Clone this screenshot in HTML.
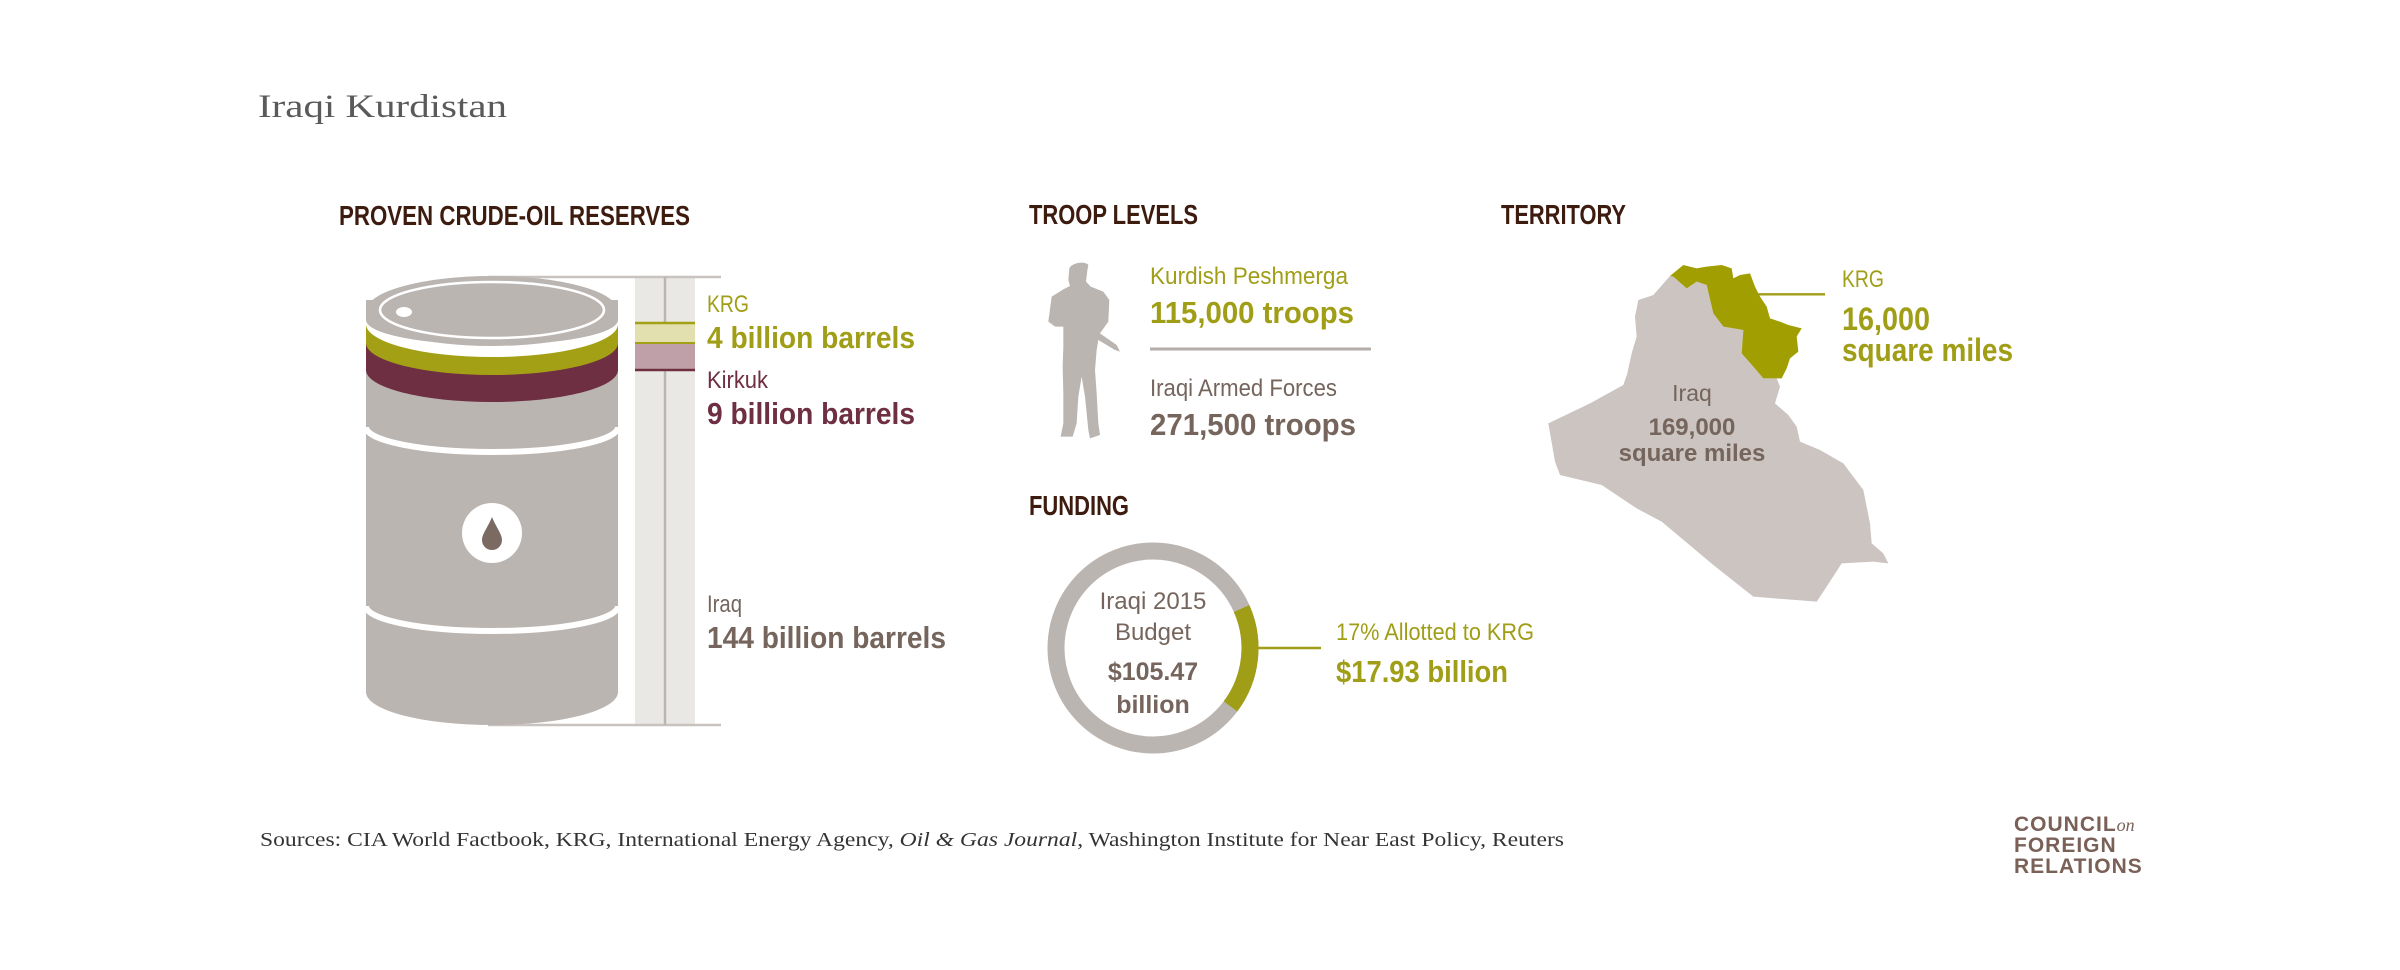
<!DOCTYPE html>
<html><head><meta charset="utf-8"><style>
html,body{margin:0;padding:0;background:#fff;}
svg{display:block;}
.n{font-family:"Liberation Sans Narrow","Liberation Sans",sans-serif;}
.b{font-weight:bold;}
.s{font-family:"Liberation Serif",serif;}
</style></head><body>
<svg width="2400" height="970" viewBox="0 0 2400 970" xmlns="http://www.w3.org/2000/svg">
<rect width="2400" height="970" fill="#fff"/>
<text x="258" y="117" class="s" font-size="33" fill="#5a5a5a" textLength="249" lengthAdjust="spacingAndGlyphs">Iraqi Kurdistan</text>

<g class="n b" font-size="28" fill="#3d1c0f">
<text x="339" y="225" textLength="351" lengthAdjust="spacingAndGlyphs">PROVEN CRUDE-OIL RESERVES</text>
<text x="1029" y="224" textLength="169" lengthAdjust="spacingAndGlyphs">TROOP LEVELS</text>
<text x="1501" y="224" textLength="125" lengthAdjust="spacingAndGlyphs">TERRITORY</text>
<text x="1029" y="515" textLength="100" lengthAdjust="spacingAndGlyphs">FUNDING</text>
</g>

<rect x="635" y="277" width="60" height="448" fill="#eae8e4"/>
<line x1="488" y1="277" x2="721" y2="277" stroke="#c9c3c0" stroke-width="2.5"/>
<line x1="488" y1="725" x2="721" y2="725" stroke="#c9c3c0" stroke-width="2.5"/>
<line x1="665" y1="277" x2="665" y2="725" stroke="#bcb5b2" stroke-width="2.5"/>
<rect x="635" y="322" width="60" height="21" fill="#e3e0b0"/>
<line x1="635" y1="323" x2="695" y2="323" stroke="#a3a015" stroke-width="2.5"/>
<line x1="635" y1="343" x2="695" y2="343" stroke="#a3a015" stroke-width="2"/>
<rect x="635" y="344" width="60" height="26" fill="#c0a0a8"/>
<line x1="635" y1="370" x2="695" y2="370" stroke="#6e2f42" stroke-width="2.5"/>

<path d="M366,310 L366,692 A126,33 0 0 0 618,692 L618,310 Z" fill="#bbb5b2"/>
<path d="M366,300 L366,370 A126,32 0 0 0 618,370 L618,300 Z" fill="#6e2f42"/>
<path d="M366,300 L366,343 A126,32 0 0 0 618,343 L618,300 Z" fill="#a3a015"/>
<path d="M366,300 L366,324 A126,33 0 0 0 618,324 L618,300 Z" fill="#fff"/>
<path d="M366,300 L366,320 A126,25 0 0 0 618,320 L618,300 Z" fill="#bbb5b2"/>
<ellipse cx="492" cy="311" rx="126" ry="35" fill="#bbb5b2"/>
<ellipse cx="492" cy="310" rx="112" ry="28" fill="none" stroke="#fff" stroke-width="2.5"/>
<ellipse cx="404" cy="312" rx="8" ry="5" fill="#fff"/>
<path d="M366,427 A126,25 0 0 0 618,427" fill="none" stroke="#fff" stroke-width="6"/>
<path d="M366,606 A126,25 0 0 0 618,606" fill="none" stroke="#fff" stroke-width="6"/>
<circle cx="492" cy="533" r="30" fill="#fff"/>
<path d="M492,517 C488,527 482,534 482,540 A10,10 0 0 0 502,540 C502,534 496,527 492,517 Z" fill="#7a6a62"/>

<g class="n">
<text x="707" y="312" font-size="24" fill="#a09e16" textLength="42" lengthAdjust="spacingAndGlyphs">KRG</text>
<text x="707" y="348" font-size="31" class="b" fill="#a09e16" textLength="208" lengthAdjust="spacingAndGlyphs">4 billion barrels</text>
<text x="707" y="388" font-size="24" fill="#6e2f42" textLength="61" lengthAdjust="spacingAndGlyphs">Kirkuk</text>
<text x="707" y="424" font-size="31" class="b" fill="#6e2f42" textLength="208" lengthAdjust="spacingAndGlyphs">9 billion barrels</text>
<text x="707" y="612" font-size="24" fill="#75655c" textLength="35" lengthAdjust="spacingAndGlyphs">Iraq</text>
<text x="707" y="648" font-size="31" class="b" fill="#75655c" textLength="239" lengthAdjust="spacingAndGlyphs">144 billion barrels</text>
</g>

<g transform="translate(1030,250) scale(0.3333)">
<path d="M118,55 C125,38 165,32 175,45 L172,62 L168,95 L182,110 L220,125 L238,150 L235,215 L210,250 L260,285 L270,305 L255,300 L205,270 L200,300 L195,360 L200,430 L205,520 L210,555 L180,565 L175,540 L165,440 L155,380 L145,440 L140,520 L128,560 L92,560 L100,520 L100,430 L98,350 L100,290 L100,230 L75,230 L55,215 L65,140 L100,118 L120,108 L115,90 Z" fill="#bbb5b2"/>
</g>
<g class="n">
<text x="1150" y="284" font-size="24" fill="#a09e16" textLength="198" lengthAdjust="spacingAndGlyphs">Kurdish Peshmerga</text>
<text x="1150" y="323" font-size="31" class="b" fill="#a09e16" textLength="204" lengthAdjust="spacingAndGlyphs">115,000 troops</text>
<line x1="1150" y1="349" x2="1371" y2="349" stroke="#b5adaa" stroke-width="3"/>
<text x="1150" y="396" font-size="24" fill="#75655c" textLength="187" lengthAdjust="spacingAndGlyphs">Iraqi Armed Forces</text>
<text x="1150" y="435" font-size="31" class="b" fill="#75655c" textLength="206" lengthAdjust="spacingAndGlyphs">271,500 troops</text>
</g>

<circle cx="1153" cy="648" r="97" fill="none" stroke="#bbb5b2" stroke-width="17"/>
<path d="M1241.6,608.5 A97,97 0 0 1 1230.5,706.4" fill="none" stroke="#a09e16" stroke-width="17"/>
<line x1="1258" y1="648" x2="1321" y2="648" stroke="#a09e16" stroke-width="2.5"/>
<g class="n" text-anchor="middle" fill="#75655c">
<text x="1153" y="609" font-size="24">Iraqi 2015</text>
<text x="1153" y="640" font-size="24">Budget</text>
<text x="1153" y="680" font-size="25" class="b">$105.47</text>
<text x="1153" y="713" font-size="25" class="b">billion</text>
</g>
<g class="n">
<text x="1336" y="640" font-size="24" fill="#a09e16" textLength="198" lengthAdjust="spacingAndGlyphs">17% Allotted to KRG</text>
<text x="1336" y="682" font-size="31" class="b" fill="#a09e16" textLength="172" lengthAdjust="spacingAndGlyphs">$17.93 billion</text>
</g>

<g transform="translate(1540,250) scale(0.33333)">
<path d="M390,78 L340,135 L295,150 L285,200 L290,260 L275,310 L262,370 L250,405 L150,460 L25,520 L45,635 L60,675 L185,705 L290,775 L365,815 L520,945 L640,1040 L830,1055 L860,1010 L905,940 L1000,935 L1045,940 L1030,910 L995,880 L990,820 L970,720 L910,640 L840,600 L780,575 L770,530 L745,495 L705,460 L720,410 L710,385 L670,385 L640,350 L605,310 L610,240 L550,230 L520,190 L500,105 L470,95 L440,115 L400,80 Z" fill="#cbc4c1"/>
<path d="M390,78 L430,45 L470,55 L500,50 L545,45 L575,55 L580,85 L600,75 L630,70 L645,110 L660,140 L680,170 L690,205 L720,215 L745,225 L785,235 L770,260 L775,305 L750,325 L740,355 L725,385 L670,385 L640,350 L605,310 L610,240 L550,230 L520,190 L500,105 L470,95 L440,115 L400,80 Z" fill="#a09e00"/>
<line x1="655" y1="133" x2="855" y2="133" stroke="#a09e16" stroke-width="7"/>
</g>
<g class="n">
<text x="1842" y="287" font-size="24" fill="#a09e16" textLength="42" lengthAdjust="spacingAndGlyphs">KRG</text>
<text x="1842" y="330" font-size="32" class="b" fill="#a09e16" textLength="88" lengthAdjust="spacingAndGlyphs">16,000</text>
<text x="1842" y="361" font-size="32" class="b" fill="#a09e16" textLength="171" lengthAdjust="spacingAndGlyphs">square miles</text>
</g>
<g class="n" text-anchor="middle" fill="#75655c">
<text x="1692" y="401" font-size="23">Iraq</text>
<text x="1692" y="435" font-size="24" class="b">169,000</text>
<text x="1692" y="461" font-size="24" class="b">square miles</text>
</g>

<text x="260" y="846" class="s" font-size="20.5" fill="#333" textLength="1304" lengthAdjust="spacingAndGlyphs">Sources:  CIA World Factbook, KRG, International Energy Agency, <tspan font-style="italic">Oil &amp; Gas Journal</tspan>, Washington Institute for Near East Policy, Reuters</text>
<g font-family="Liberation Sans, sans-serif" font-size="21" fill="#7a6158" font-weight="bold" letter-spacing="1">
<text x="2014" y="831">COUNCIL<tspan font-family="Liberation Serif, serif" font-style="italic" font-weight="normal" font-size="18" letter-spacing="0">on</tspan></text>
<text x="2014" y="852">FOREIGN</text>
<text x="2014" y="873">RELATIONS</text>
</g>
</svg>
</body></html>
